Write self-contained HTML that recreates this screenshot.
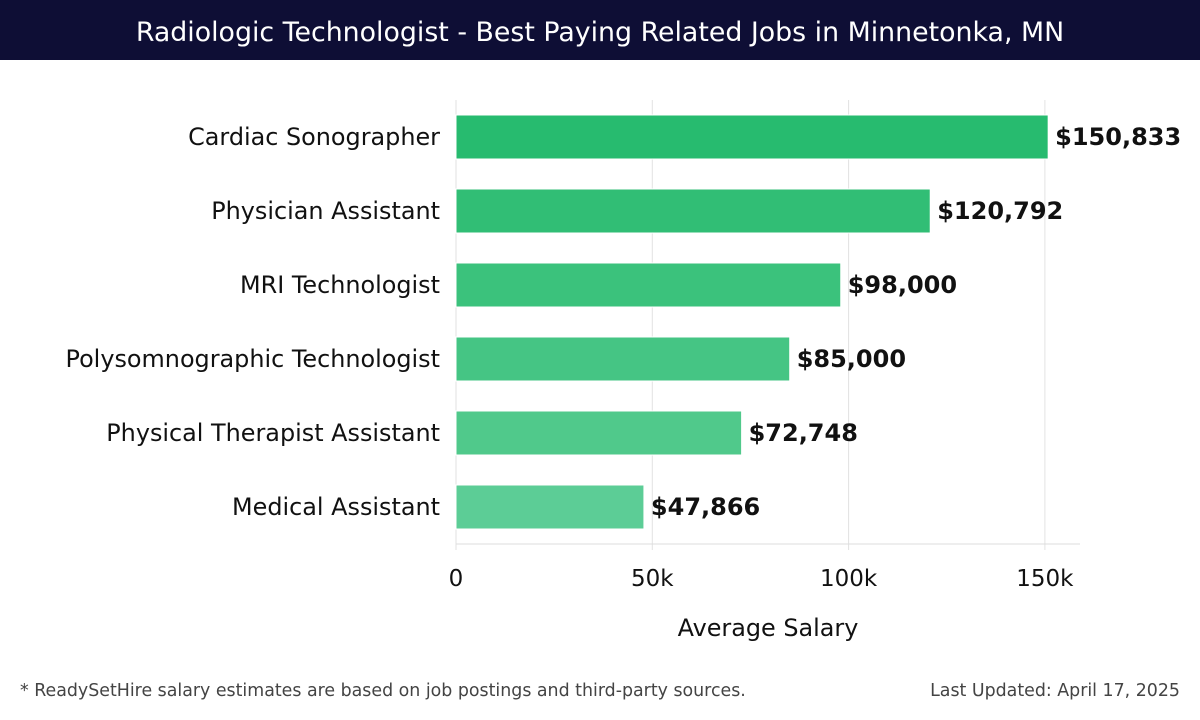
<!DOCTYPE html>
<html><head><meta charset="utf-8"><style>
body{margin:0;width:1200px;height:720px;background:#fff;font-family:"DejaVu Sans","Liberation Sans",sans-serif;overflow:hidden;position:relative}
#hdr{position:absolute;left:0;top:0;width:1200px;height:60px;background:#0e0e35;color:#fff;font-size:26.8px;text-align:center;line-height:66px}
.foot{position:absolute;top:681px;font-size:17.4px;color:#444}
</style></head><body>
<div id="hdr">Radiologic Technologist - Best Paying Related Jobs in Minnetonka, MN</div>
<svg id="c" width="1200" height="720" style="position:absolute;left:0;top:0"></svg>
<div class="foot" style="left:20px">* ReadySetHire salary estimates are based on job postings and third-party sources.</div>
<div class="foot" style="right:20px">Last Updated: April 17, 2025</div>
<script>
const categories=["Cardiac Sonographer","Physician Assistant","MRI Technologist","Polysomnographic Technologist","Physical Therapist Assistant","Medical Assistant"];
const salaries=[150833,120792,98000,85000,72748,47866];
const valueLabels=["$150,833","$120,792","$98,000","$85,000","$72,748","$47,866"];
const tickValues=[0,50000,100000,150000];
const tickLabels=["0","50k","100k","150k"];
const colors=["#27bb6f","#31be75","#3bc27c","#45c584","#50c98b","#5ccd96"];
const svg=document.getElementById('c');const NS="http://www.w3.org/2000/svg";
const x0=456,pxPer=196.3/50000,plotTop=100,band=74,bh=44,plotBottom=544;
const xs=v=>x0+v*pxPer;
function mk(t,a,txt){const e=document.createElementNS(NS,t);for(const k in a)e.setAttribute(k,a[k]);if(txt!=null)e.textContent=txt;svg.appendChild(e);return e;}
tickValues.forEach((v,i)=>{
 const g=mk('line',{x1:xs(v),x2:xs(v),y1:plotTop,y2:plotBottom+6,stroke:'#e2e2e2','stroke-width':1});
 
 
 const t=mk('text',{x:xs(v),y:586,'text-anchor':'middle','font-size':23,fill:'#111'},tickLabels[i]);
 
 
});
const ax=mk('line',{x1:x0,x2:1080,y1:plotBottom,y2:plotBottom,stroke:'#ddd'});


categories.forEach((c,i)=>{
 const cy=plotTop+band*i+band/2;
 const r=mk('rect',{x:x0,y:cy-bh/2,width:xs(salaries[i])-x0,height:bh,fill:colors[i],stroke:'#fff','stroke-width':1});
 
 
 const l=mk('text',{x:440,y:cy+8,'text-anchor':'end','font-size':23.9,fill:'#111'},c);
 
 
 const v=mk('text',{x:xs(salaries[i])+7,y:cy+8,'font-size':24,'font-weight':'bold',fill:'#111'},valueLabels[i]);
 
 
});
const xt=mk('text',{x:768,y:636,'text-anchor':'middle','font-size':23.9,fill:'#111'},'Average Salary');


</script>
</body></html>
